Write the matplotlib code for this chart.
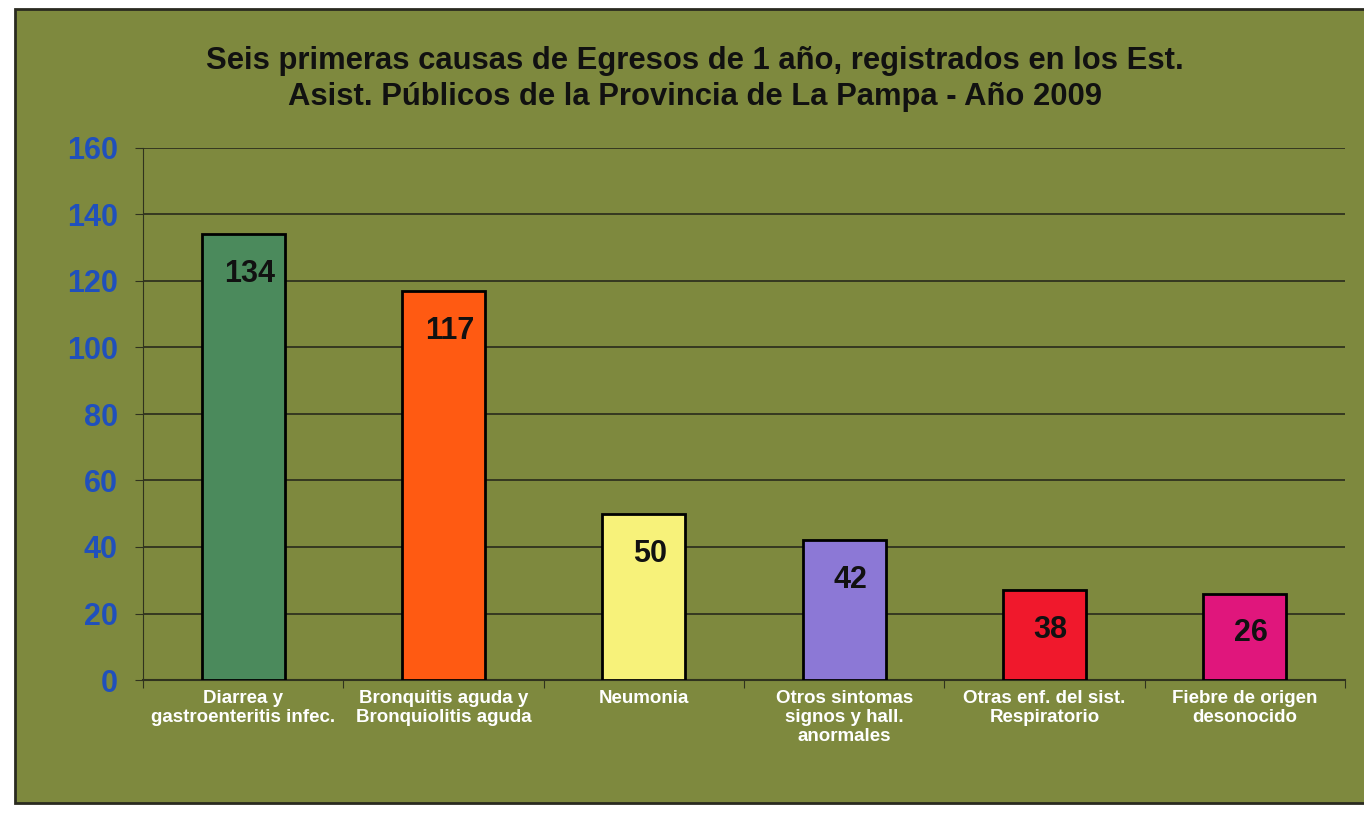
import matplotlib
matplotlib.use("Agg")
import matplotlib.pyplot as plt
from matplotlib.patches import Rectangle

plt.rcParams['font.family'] = ['Liberation Sans', 'DejaVu Sans']

# datos
causas = ["Diarrea y\ngastroenteritis infec.", "Bronquitis aguda y\nBronquiolitis aguda",
          "Neumonia", "Otros sintomas\nsignos y hall.\nanormales",
          "Otras enf. del sist.\nRespiratorio", "Fiebre de origen\ndesonocido"]
alturas = [134, 117, 50, 42, 27, 26]
etiquetas = ["134", "117", "50", "42", "38", "26"]
colores = ["#4b8a5c", "#ff5a12", "#f7f27a", "#8c78d6", "#f0182c", "#e0167c"]
yticks = [0, 20, 40, 60, 80, 100, 120, 140, 160]

fondo = "#7e893e"

fig = plt.figure(figsize=(13.64, 8.13), dpi=100)
fig.patch.set_facecolor("white")
# marco del grafico escaneado
fig.patches.append(Rectangle((15 / 1364, 10 / 813), 1.0, 794 / 813, transform=fig.transFigure,
                             facecolor=fondo, edgecolor="#2a2a20", linewidth=2, zorder=-10))

ax = fig.add_axes([143 / 1364, 1 - 680 / 813, 1202 / 1364, 532 / 813])
ax.set_facecolor(fondo)

x = list(range(len(causas)))
ax.bar(x, alturas, width=0.415, color=colores, edgecolor="black", linewidth=2, zorder=3)

for xi, h, t in zip(x, alturas, etiquetas):
    ax.text(xi + 0.03, h - 12, t, ha="center", va="center", fontsize=22,
            fontweight="bold", color="#111111", zorder=4)

ax.set_xlim(-0.5, len(causas) - 0.5)
ax.set_ylim(0, 160)
ax.set_yticks(yticks)
ax.set_yticklabels([str(v) for v in yticks], fontsize=22, fontweight="bold", color="#2050bc")
ax.yaxis.grid(True, color="#30321e", linewidth=1.3, zorder=1)
ax.set_axisbelow(True)

ax.set_xticks([i - 0.5 for i in range(len(causas) + 1)])
ax.set_xticklabels([])
for xi, c in zip(x, causas):
    ax.text(xi, -3, c, ha="center", va="top", fontsize=13.5, fontweight="bold",
            color="white", linespacing=1.15)

for s in ["top", "right"]:
    ax.spines[s].set_visible(False)
ax.spines["left"].set_color("#30321e")
ax.spines["bottom"].set_color("#30321e")
ax.spines["bottom"].set_linewidth(1.5)
ax.tick_params(axis="both", color="#30321e", length=6, pad=12)

fig.text(695 / 1364, 1 - 79 / 813,
         "Seis primeras causas de Egresos de 1 año, registrados en los Est.\n"
         "Asist. Públicos de la Provincia de La Pampa - Año 2009",
         ha="center", va="center", fontsize=22.3, fontweight="bold", color="#111111",
         linespacing=1.22)

fig.savefig("out.png", dpi=100, facecolor=fig.get_facecolor())
